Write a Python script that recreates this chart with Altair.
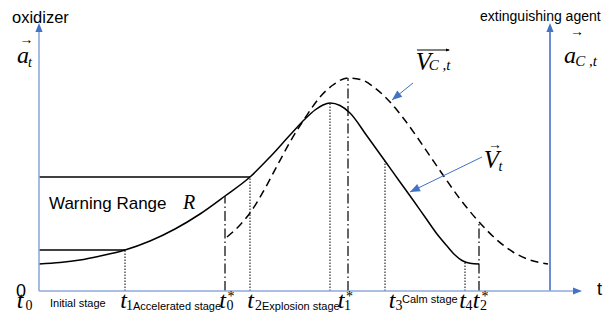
import altair as alt
import pandas as pd

# t = time units measured from the oxidizer axis, v = value units above the time axis
solid_t = [0, 21, 41, 61, 86, 111, 136, 161, 186, 211, 231, 251, 266, 276, 284, 291,
           301, 311, 328, 346, 361, 374, 386, 398, 408, 416, 423, 431, 440]
solid_v = [27, 28.5, 31, 35, 41, 50, 62, 77, 95, 114, 134, 156, 172, 181, 186, 188,
           185.5, 178, 155, 130, 109, 91, 74, 57, 45, 36, 30.5, 27.7, 27]

dash_t = [188, 201, 211, 224, 238, 251, 266, 281, 294, 309, 323, 336, 351, 365, 378, 391,
          404, 421, 441, 458, 474, 491, 509]
dash_v = [54, 66, 78, 99, 125, 149, 173, 194, 206, 213, 211, 203, 189, 172, 154, 135,
          116, 92, 68, 51, 39, 31, 27]

dotted_t = [86, 211, 291, 346, 426]
dotted_top = [41, 114, 188, 130, 29]
dashdot_t = [186, 309, 440]
dashdot_top = [95, 213, 68]

range_end = [211, 86]
range_level = [114, 41]

sans_text = ["oxidizer", "extinguishing agent", "0", "t", "Warning Range",
             "Initial stage", "Accelerated stage", "Explosion stage", "Calm stage"]
sans_x = [-27, 441, -23, 558, 10, 11, 94, 223, 363]
sans_y = [268, 270.5, -6, -4, 82, -16, -19, -19, -12]
sans_size = [16.5, 14, 18, 18, 17, 11, 11, 11, 11]

ital_text = ["a", "t", "a", "C ,t", "V", "C ,t", "V", "t", "R",
             "t", "t", "t", "t", "t", "t", "t", "t"]
ital_x = [-16, -9, 531, 547, 384.5, 400.5, 452.5, 461.5, 150,
          -19, 84.5, 183.5, 211.5, 302, 353, 423.5, 437]
ital_y = [228, 224, 228, 225, 221, 221, 123, 120, 82,
          -16.5, -16.5, -16.5, -16.5, -16.5, -16.5, -16.5, -16.5]
ital_size = [24, 14, 24, 15, 25, 15, 25, 14, 20,
             24, 24, 24, 24, 24, 24, 24, 24]

up_text = ["0", "1", "0", "2", "1", "3", "4", "2", "*", "*", "*"]
up_x = [-10, 90.5, 191, 219.5, 308.5, 360, 430, 444.5, 192, 310.5, 446]
up_y = [-18.5, -18.5, -18.5, -18.5, -18.5, -18.5, -18.5, -18.5, -10, -10, -10]
up_size = [14, 14, 14, 14, 14, 14, 14, 14, 14, 14, 14]

vec_x = [-12.5, 538, 456]
vec_y = [251, 259, 146]

# axes: left, right, bottom
axis_x = [0, 511, 0]
axis_x2 = [0, 511, 535]
axis_y = [0, 0, 0]
axis_y2 = [260, 260, 0]
axis_col = ["#8FAADC", "#4472C4", "#8FAADC"]
head_x = [0, 511, 543]
head_y = [268, 268, 0]
head_angle = [0, 0, 90]

# callout arrows (V_C,t and V_t)
call_x = [374, 443]
call_y = [208, 134]
call_x2 = [353, 371]
call_y2 = [191, 99]
call_angle = [231, 244]

XS = alt.Scale(domain=[-31, 564], nice=False, zero=False)
YS = alt.Scale(domain=[-22, 283], nice=False, zero=False)


def X(f):
    return alt.X(f, type="quantitative", scale=XS, axis=None)


def Y(f):
    return alt.Y(f, type="quantitative", scale=YS, axis=None)


HEAD = "M0,0L-0.8,2L0.8,2Z"

axes_df = pd.DataFrame({"x": axis_x, "x2": axis_x2, "y": axis_y, "y2": axis_y2, "c": axis_col})
axes = alt.Chart(axes_df).mark_rule(strokeWidth=1.6).encode(
    x=X("x"), x2="x2:Q", y=Y("y"), y2="y2:Q", color=alt.Color("c:N", scale=None))
heads = alt.Chart(pd.DataFrame({"x": head_x, "y": head_y, "a": head_angle})).mark_point(
    shape=HEAD, size=81, filled=True, color="#4472C4", opacity=1).encode(
    x=X("x"), y=Y("y"), angle=alt.Angle("a:Q", scale=None))

solid = alt.Chart(pd.DataFrame({"t": solid_t, "v": solid_v})).mark_line(
    color="black", strokeWidth=1.5, interpolate="monotone").encode(x=X("t"), y=Y("v"))
dashed = alt.Chart(pd.DataFrame({"t": dash_t, "v": dash_v})).mark_line(
    color="black", strokeWidth=1.5, strokeDash=[8, 5], interpolate="monotone").encode(x=X("t"), y=Y("v"))

dotted = alt.Chart(pd.DataFrame({"t": dotted_t, "top": dotted_top, "b": [0] * len(dotted_t)})).mark_rule(
    color="black", strokeWidth=1, strokeDash=[1.5, 1.5]).encode(x=X("t"), y=Y("b"), y2="top:Q")
dashdot = alt.Chart(pd.DataFrame({"t": dashdot_t, "top": dashdot_top, "b": [0] * len(dashdot_t)})).mark_rule(
    color="black", strokeWidth=1.2, strokeDash=[10, 3, 1.5, 3]).encode(x=X("t"), y=Y("b"), y2="top:Q")

ranges = alt.Chart(pd.DataFrame({"s": [0, 0], "e": range_end, "v": range_level})).mark_rule(
    color="black", strokeWidth=1.5).encode(x=X("s"), x2="e:Q", y=Y("v"))

callouts = alt.Chart(pd.DataFrame({"x": call_x, "y": call_y, "x2": call_x2, "y2": call_y2})).mark_rule(
    color="#4472C4", strokeWidth=1).encode(x=X("x"), x2="x2:Q", y=Y("y"), y2="y2:Q")
callheads = alt.Chart(pd.DataFrame({"x": call_x2, "y": call_y2, "a": call_angle})).mark_point(
    shape=HEAD, size=100, filled=True, color="#4472C4", opacity=1).encode(
    x=X("x"), y=Y("y"), angle=alt.Angle("a:Q", scale=None))

# overline vector arrow of V_C,t
over = alt.Chart(pd.DataFrame({"x": [378], "x2": [410], "y": [241]})).mark_rule(
    color="black", strokeWidth=1).encode(x=X("x"), x2="x2:Q", y=Y("y"))
overhead = alt.Chart(pd.DataFrame({"x": [411], "y": [241], "a": [90]})).mark_point(
    shape=HEAD, size=16, filled=True, color="black", opacity=1).encode(
    x=X("x"), y=Y("y"), angle=alt.Angle("a:Q", scale=None))

sans = alt.Chart(pd.DataFrame({"x": sans_x, "y": sans_y, "txt": sans_text, "s": sans_size})).mark_text(
    align="left", baseline="alphabetic", font="Liberation Sans", color="black").encode(
    x=X("x"), y=Y("y"), text="txt:N", size=alt.Size("s:Q", scale=None))
ital = alt.Chart(pd.DataFrame({"x": ital_x, "y": ital_y, "txt": ital_text, "s": ital_size})).mark_text(
    align="center", baseline="alphabetic", font="Liberation Serif", fontStyle="italic", color="black").encode(
    x=X("x"), y=Y("y"), text="txt:N", size=alt.Size("s:Q", scale=None))
upright = alt.Chart(pd.DataFrame({"x": up_x, "y": up_y, "txt": up_text, "s": up_size})).mark_text(
    align="center", baseline="alphabetic", font="Liberation Serif", color="black").encode(
    x=X("x"), y=Y("y"), text="txt:N", size=alt.Size("s:Q", scale=None))
vecs = alt.Chart(pd.DataFrame({"x": vec_x, "y": vec_y, "txt": ["→"] * 3})).mark_text(
    align="center", baseline="middle", font="Liberation Serif", fontSize=14, color="black").encode(
    x=X("x"), y=Y("y"), text="txt:N")

chart = alt.layer(
    ranges, dotted, dashdot, solid, dashed, axes, heads, callouts, callheads,
    over, overhead, sans, ital, upright, vecs
).properties(
    width=595, height=305, padding=0, autosize=alt.AutoSizeParams(type="none"), background="white"
).configure_view(strokeWidth=0)

chart.save("out.html", embed_options={"renderer": "svg", "actions": False})
